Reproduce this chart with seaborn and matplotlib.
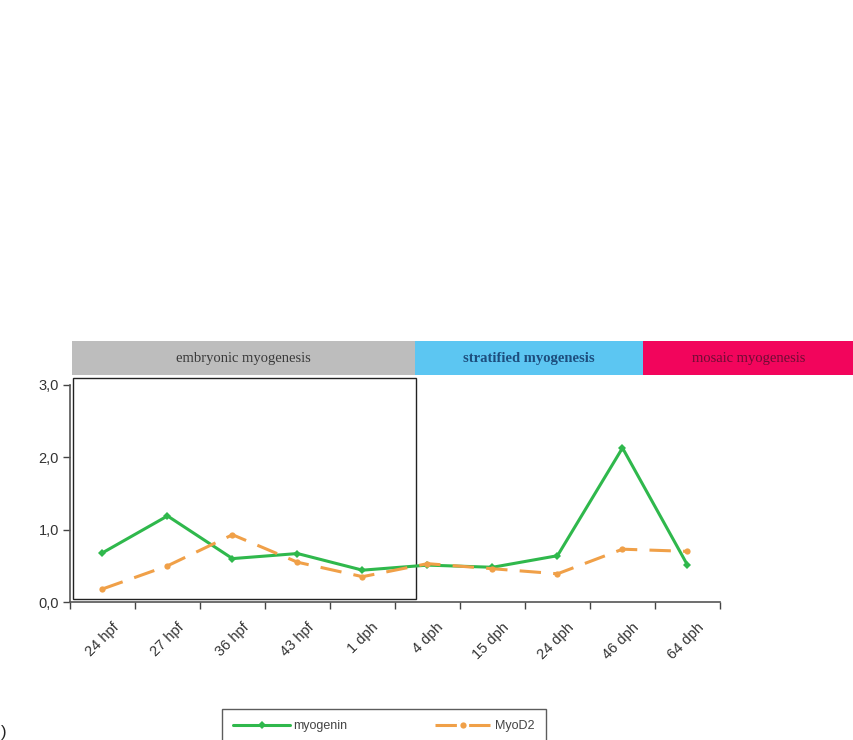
import numpy as np
import pandas as pd
import matplotlib.pyplot as plt
import matplotlib.transforms as mtransforms
import seaborn as sns
from matplotlib.patches import Rectangle

stages = ["24 hpf", "27 hpf", "36 hpf", "43 hpf", "1 dph",
          "4 dph", "15 dph", "24 dph", "46 dph", "64 dph"]
myogenin = [0.68, 1.19, 0.60, 0.67, 0.44, 0.51, 0.48, 0.64, 2.13, 0.51]
myod2 = [0.18, 0.50, 0.93, 0.55, 0.35, 0.53, 0.46, 0.39, 0.73, 0.70]

phases = ["embryonic myogenesis", "stratified myogenesis", "mosaic myogenesis"]
phase_colors = ["#bdbdbd", "#5cc6f2", "#f2055c"]
phase_text_colors = ["#3a3a3a", "#1d4e7e", "#6e0c34"]

df = pd.DataFrame({"stage": stages * 2,
                   "value": myogenin + myod2,
                   "gene": ["myogenin"] * len(stages) + ["MyoD2"] * len(stages)})

sns.set_style("white")
plt.rcParams["font.family"] = ["Liberation Sans", "DejaVu Sans"]

W, H = 854, 740
fig = plt.figure(figsize=(W / 100, H / 100), dpi=100)
ax = fig.add_axes([70 / W, 1 - 602 / H, 650 / W, 217 / H])

sns.lineplot(data=df, x="stage", y="value", hue="gene", style="gene",
             palette={"myogenin": "#2fb84c", "MyoD2": "#f0a048"},
             dashes={"myogenin": "", "MyoD2": (7, 4)},
             markers={"myogenin": "D", "MyoD2": "o"},
             markersize=4.5, markeredgewidth=0, linewidth=2.2,
             sort=False, ax=ax, legend=True)

n = len(stages)
ax.set_xlim(-0.5, n - 0.5)
ax.set_ylim(0, 3.0)
ax.set_xlabel("")
ax.set_ylabel("")

# labels at category centres, tick marks on the boundaries
ax.set_xticks(np.arange(n))
ax.set_xticklabels(stages, rotation=45, ha="right", rotation_mode="anchor",
                   fontsize=10.5, color="#333333")
ax.tick_params(axis="x", which="major", length=0, pad=13)
shift = mtransforms.ScaledTranslation(9 / 100, 0, fig.dpi_scale_trans)
for lbl in ax.get_xticklabels():
    lbl.set_transform(lbl.get_transform() + shift)
ax.set_xticks(np.arange(n + 1) - 0.5, minor=True)
ax.tick_params(axis="x", which="minor", length=5, width=1, color="#444444",
               direction="out", bottom=True)

ax.set_yticks([0, 1, 2, 3])
ax.set_yticklabels(["0,0", "1,0", "2,0", "3,0"], fontsize=10.5, color="#333333")
ax.tick_params(axis="y", length=5, width=1, color="#444444", direction="out",
               left=True, pad=3)

for s in ["top", "right"]:
    ax.spines[s].set_visible(False)
for s in ["left", "bottom"]:
    ax.spines[s].set_color("#555555")
    ax.spines[s].set_linewidth(1.2)

# box around the embryonic period
ax.add_patch(Rectangle((-0.45, 0.04), 5.27, 3.06, fill=False,
                       edgecolor="#222222", linewidth=1.0, clip_on=False))

# phase header bars
bounds = [72, 415, 643, 854]
top, bot = 1 - 341 / H, 1 - 375 / H
for i, name in enumerate(phases):
    x0, x1 = bounds[i] / W, bounds[i + 1] / W
    fig.patches.append(Rectangle((x0, bot), x1 - x0, top - bot,
                                 transform=fig.transFigure,
                                 facecolor=phase_colors[i], edgecolor="none"))
    fig.text((x0 + x1) / 2, (top + bot) / 2, name,
             family=["Liberation Serif", "DejaVu Serif"],
             fontsize=10.5, color=phase_text_colors[i],
             weight="bold" if i == 1 else "normal",
             ha="center", va="center")

leg = ax.legend(loc="upper center", bbox_to_anchor=(384 / W, 1 - 709 / H),
                bbox_transform=fig.transFigure, ncol=2, frameon=True,
                fontsize=9, handlelength=4.5, columnspacing=7.0,
                borderpad=0.9, borderaxespad=0, handletextpad=0.3,
                fancybox=False, title=None)
leg.get_frame().set_edgecolor("#333333")
leg.get_frame().set_linewidth(1.0)
for t in leg.get_texts():
    t.set_color("#444444")

fig.text(1 / W, 1 - 733 / H, ")", fontsize=12, color="#222222",
         ha="left", va="center")

fig.savefig("out.png", dpi=100)
